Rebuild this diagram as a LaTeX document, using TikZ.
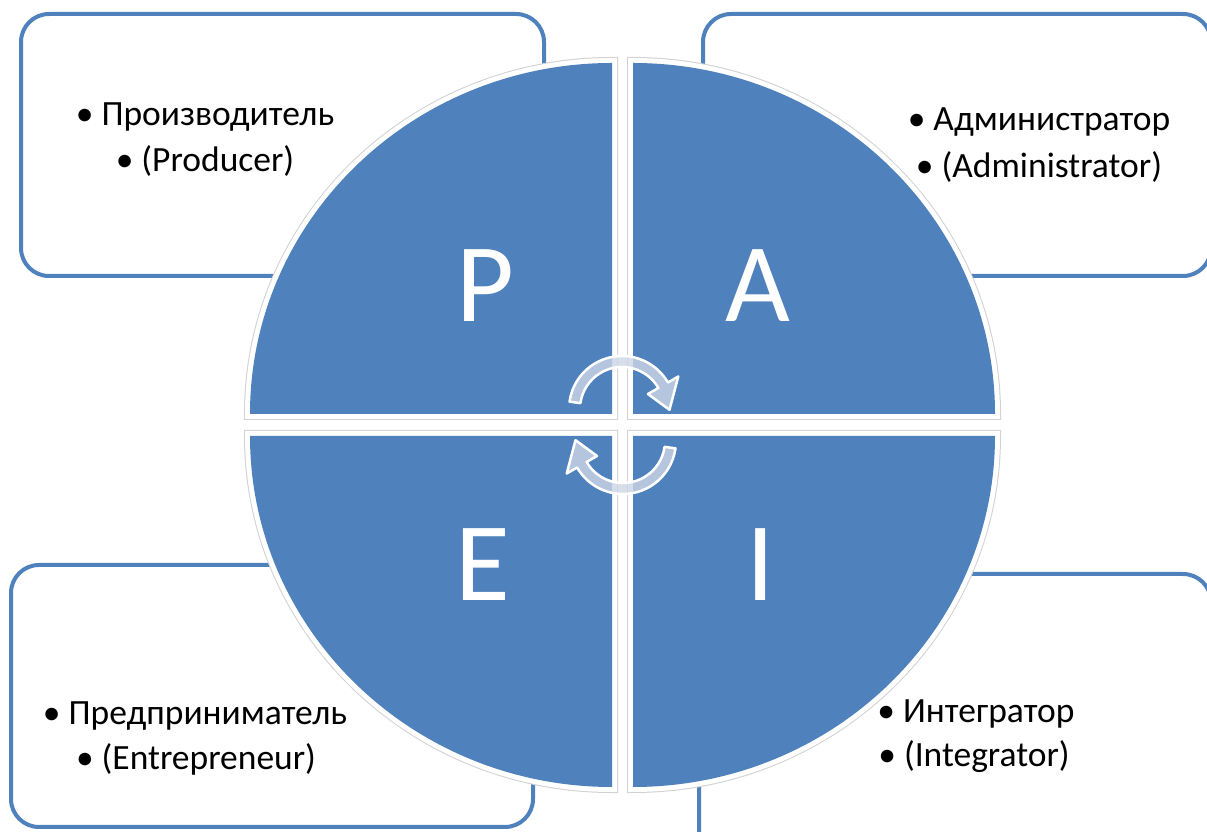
\documentclass[tikz,border=0pt]{standalone}
\usepackage{fontspec}
\setmainfont{Carlito}
\usetikzlibrary{positioning}
\definecolor{paeiblue}{HTML}{4F81BD}
\definecolor{turnfill}{RGB}{206,214,230}
\tikzset{>=latex}

\begin{document}
\begin{tikzpicture}[x=1pt, y=1pt,
    rolebox/.style = {draw=paeiblue, line width=4pt, rounded corners=28pt, fill=white, inner sep=0pt},
    quadrant/.style = {fill=paeiblue, preaction={draw=black!18, line width=12pt}, preaction={draw=white, line width=10pt}},
    letter/.style = {text=white, font=\fontsize{112}{112}\selectfont, inner sep=0pt},
    roletext/.style = {anchor=base, font=\fontsize{35.5}{40}\selectfont, inner sep=0pt},
    turnarrow/.style = {fill=turnfill, fill opacity=0.8, draw=white, line width=2.5pt, line join=round}]
  \useasboundingbox (0,0) rectangle (1207,832);
  \clip (0,0) rectangle (1207,832);
  \fill[white] (0,0) rectangle (1207,832);

  % corner boxes
  \node[rolebox, minimum width=523pt, minimum height=262pt] (pbox) at (282.5,687) {};
  \node[rolebox, minimum width=508pt, minimum height=262pt] (abox) at (957,687) {};
  \node[rolebox, minimum width=522pt, minimum height=262pt] (ebox) at (272,136) {};
  \node[rolebox, minimum width=512pt, minimum height=288pt] (ibox) at (955,114) {};

  % the four quarters
  \path[quadrant] (612,418) -- ++(-362,0) arc[start angle=180, end angle=90, x radius=362, y radius=351] -- cycle;
  \path[quadrant] (633,418) -- ++(0,351) arc[start angle=90, end angle=0, x radius=362, y radius=351] -- cycle;
  \path[quadrant] (612,396) -- ++(0,-351) arc[start angle=270, end angle=180, x radius=362, y radius=351] -- cycle;
  \path[quadrant] (633,396) -- ++(362,0) arc[start angle=0, end angle=-90, x radius=362, y radius=351] -- cycle;

  \node[letter] (p) at (485,546) {P};
  \node[letter] (a) at (758,546) {A};
  \node[letter] (e) at (483,267) {E};
  \node[letter] (i) at (761,267) {I};

  % turning arrows in the middle
  \begin{scope}[shift={(622,423)}]
    \path[turnarrow] (172:53) arc[start angle=172, end angle=30, radius=53] -- (30:65)
      -- (-1:47.5) -- (30:30) -- (30:42) arc[start angle=30, end angle=172, radius=42] -- cycle;
  \end{scope}
  \begin{scope}[shift={(623,391)}]
    \path[turnarrow] (352:53) arc[start angle=352, end angle=210, radius=53] -- (210:65)
      -- (179:47.5) -- (210:30) -- (210:42) arc[start angle=210, end angle=352, radius=42] -- cycle;
  \end{scope}

  % box texts
  \node[roletext] (p1) at (205,706) {• Производитель};
  \node[roletext] (p2) at (205,660) {• (Producer)};
  \node[roletext] (a1) at (1039,701) {• Администратор};
  \node[roletext] (a2) at (1039,654) {• (Administrator)};
  \node[roletext] (e1) at (195,107) {• Предприниматель};
  \node[roletext] (e2) at (196,62) {• (Entrepreneur)};
  \node[roletext] (i1) at (976,109) {• Интегратор};
  \node[roletext] (i2) at (974,65) {• (Integrator)};
\end{tikzpicture}
\end{document}
